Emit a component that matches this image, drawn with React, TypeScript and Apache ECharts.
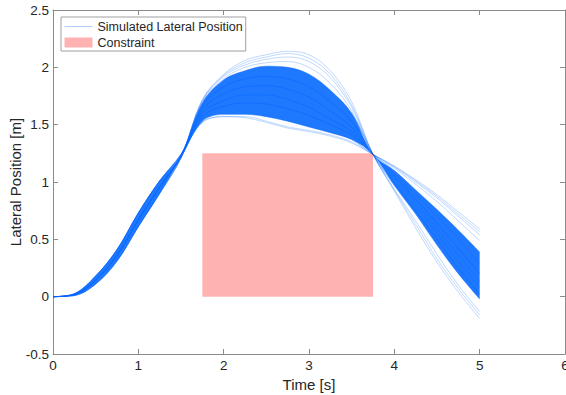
import React, { useEffect, useRef } from "react";
import * as echarts from "echarts";

// Sample times [s]
const TIME = [0, 0.25, 0.5, 0.75, 1, 1.25, 1.5, 1.75, 2, 2.25, 2.5, 2.75, 3, 3.25, 3.5, 3.75, 4, 4.25, 4.5, 4.75, 5];
// Remaining slots of the 0.25 s grid up to the axis end (for the hidden band axis)
const TIME_PAD = [5.25, 5.5, 5.75, 6];

// Individual simulated lateral-position runs [m]
const RUN_01 = [0, 0.01, 0.11, 0.31, 0.61, 0.9, 1.21, 1.72, 1.94, 2.06, 2.11, 2.14, 2.11, 1.97, 1.7, 1.24, 0.94, 0.66, 0.37, 0.1, -0.13];
const RUN_02 = [0, 0.01, 0.11, 0.31, 0.61, 0.9, 1.21, 1.71, 1.92, 2.02, 2.07, 2.09, 2.05, 1.91, 1.65, 1.24, 0.92, 0.6, 0.3, 0.04, -0.19];
const RUN_03 = [0, 0.018, 0.145, 0.36, 0.67, 0.955, 1.225, 1.7, 1.9, 2.0, 2.04, 2.05, 2.0, 1.86, 1.62, 1.24, 0.99, 0.75, 0.5, 0.25, 0.02];
const RUN_04 = [0, 0.025, 0.18, 0.41, 0.73, 1.01, 1.24, 1.69, 1.89, 1.97, 2.01, 2.0, 1.94, 1.8, 1.6, 1.24, 0.97, 0.72, 0.45, 0.2, -0.02];
const RUN_05 = [0, 0.018, 0.145, 0.36, 0.67, 0.955, 1.225, 1.66, 1.83, 1.9, 1.92, 1.9, 1.83, 1.7, 1.53, 1.24, 1.01, 0.79, 0.55, 0.31, 0.08];
const RUN_06 = [0, 0.025, 0.18, 0.41, 0.73, 1.01, 1.24, 1.63, 1.77, 1.83, 1.84, 1.81, 1.74, 1.62, 1.48, 1.24, 1.05, 0.85, 0.64, 0.42, 0.2];
const RUN_07 = [0, 0.018, 0.145, 0.36, 0.67, 0.955, 1.225, 1.6, 1.71, 1.76, 1.76, 1.72, 1.65, 1.55, 1.44, 1.24, 1.07, 0.89, 0.7, 0.5, 0.29];
const RUN_08 = [0, 0.01, 0.11, 0.31, 0.61, 0.9, 1.21, 1.57, 1.66, 1.69, 1.68, 1.64, 1.58, 1.5, 1.41, 1.24, 1.1, 0.93, 0.76, 0.58, 0.39];
const RUN_09 = [0, 0.025, 0.18, 0.41, 0.73, 1.01, 1.24, 1.53, 1.59, 1.59, 1.57, 1.53, 1.48, 1.43, 1.37, 1.24, 1.12, 0.98, 0.83, 0.66, 0.49];
const RUN_10 = [0, 0.025, 0.18, 0.41, 0.73, 1.01, 1.24, 1.52, 1.57, 1.57, 1.53, 1.48, 1.45, 1.41, 1.35, 1.24, 1.14, 1.02, 0.89, 0.74, 0.59];
const RUN_11 = [0, 0.018, 0.145, 0.36, 0.67, 0.955, 1.225, 1.53, 1.59, 1.59, 1.57, 1.53, 1.48, 1.43, 1.37, 1.24, 1.13, 1.0, 0.86, 0.7, 0.54];
const RUN_12 = [0, 0.01, 0.11, 0.31, 0.61, 0.9, 1.21, 1.66, 1.83, 1.9, 1.92, 1.9, 1.83, 1.7, 1.53, 1.24, 1.03, 0.82, 0.59, 0.36, 0.13];
const RUN_13 = [0, 0.025, 0.18, 0.41, 0.73, 1.01, 1.24, 1.6, 1.71, 1.76, 1.76, 1.72, 1.65, 1.55, 1.44, 1.24, 1.1, 0.93, 0.76, 0.58, 0.39];
const RUN_14 = [0, 0.018, 0.145, 0.36, 0.67, 0.955, 1.225, 1.69, 1.89, 1.97, 2.01, 2.0, 1.94, 1.8, 1.6, 1.24, 0.97, 0.72, 0.45, 0.2, -0.02];
const RUN_15 = [0, 0.01, 0.11, 0.31, 0.61, 0.9, 1.21, 1.63, 1.77, 1.83, 1.84, 1.81, 1.74, 1.62, 1.48, 1.24, 0.99, 0.75, 0.5, 0.25, 0.02];
const RUN_16 = [0, 0.025, 0.18, 0.41, 0.73, 1.01, 1.24, 1.57, 1.66, 1.69, 1.68, 1.64, 1.58, 1.5, 1.41, 1.24, 1.05, 0.85, 0.64, 0.42, 0.2];
const RUN_17 = [0, 0.018, 0.145, 0.36, 0.67, 0.955, 1.225, 1.71, 1.93, 2.04, 2.09, 2.12, 2.08, 1.94, 1.67, 1.24, 0.93, 0.63, 0.33, 0.07, -0.16];
const RUN_18 = [0, 0.025, 0.18, 0.41, 0.73, 1.01, 1.24, 1.52, 1.57, 1.56, 1.52, 1.47, 1.44, 1.4, 1.34, 1.24, 1.135, 1.01, 0.875, 0.72, 0.565];

const RUNS = [RUN_01, RUN_02, RUN_03, RUN_04, RUN_05, RUN_06, RUN_07, RUN_08, RUN_09, RUN_10, RUN_11, RUN_12, RUN_13, RUN_14, RUN_15, RUN_16, RUN_17, RUN_18];

// Dense core of the run bundle (lower / upper edge) [m]
const CORE_LOW = [0, 0.01, 0.11, 0.31, 0.61, 0.9, 1.21, 1.53, 1.59, 1.59, 1.57, 1.53, 1.48, 1.43, 1.37, 1.24, 0.97, 0.72, 0.45, 0.2, -0.02];
const CORE_HIGH = [0, 0.025, 0.18, 0.41, 0.73, 1.01, 1.24, 1.69, 1.89, 1.97, 2.01, 2.0, 1.94, 1.8, 1.6, 1.24, 1.1, 0.93, 0.76, 0.58, 0.39];

// Constraint region
const CONSTRAINT_T = [1.75, 3.75];
const CONSTRAINT_Y = 1.25;

const SIM_NAME = "Simulated Lateral Position";
const CON_NAME = "Constraint";
const LINE_COLOR = "rgba(0,102,255,0.25)";
const TEXT = "#262626";
const AXIS = "#8a8a8a";
const FONT = "'Liberation Sans', Arial, Helvetica, sans-serif";
const SMOOTH = 0.35;

export default function App() {
  const ref = useRef<HTMLDivElement>(null);

  useEffect(() => {
    if (!ref.current) return;
    const chart = echarts.init(ref.current, null, { renderer: "svg" });

    const axisCommon = {
      type: "value" as const,
      splitLine: { show: false },
      axisLine: { show: true, onZero: false, lineStyle: { color: AXIS, width: 1 } },
      axisTick: { show: true, inside: true, length: 5, lineStyle: { color: AXIS } },
    };

    const bandCats = TIME.concat(TIME_PAD).map((t) => String(t));

    const series: any[] = [];

    series.push({
      name: "coreBase",
      type: "line",
      xAxisIndex: 2,
      stack: "core",
      stackStrategy: "all",
      smooth: SMOOTH,
      symbol: "none",
      lineStyle: { width: 0, opacity: 0 },
      data: CORE_LOW,
      silent: true,
      z: 1,
    });
    series.push({
      name: "coreSpan",
      type: "line",
      xAxisIndex: 2,
      stack: "core",
      stackStrategy: "all",
      smooth: SMOOTH,
      symbol: "none",
      lineStyle: { width: 0, opacity: 0 },
      areaStyle: { color: "rgba(0,102,255,0.88)", opacity: 1 },
      data: CORE_HIGH.map((h, i) => h - CORE_LOW[i]),
      silent: true,
      z: 1,
    });

    RUNS.forEach((run) => {
      series.push({
        name: SIM_NAME,
        type: "line",
        smooth: SMOOTH,
        symbol: "none",
        showSymbol: false,
        itemStyle: { color: LINE_COLOR },
        lineStyle: { color: LINE_COLOR, width: 1 },
        data: TIME.map((t, i) => [t, run[i]]),
        silent: true,
        z: 2,
      });
    });

    series.push({
      name: CON_NAME,
      type: "line",
      symbol: "none",
      showSymbol: false,
      itemStyle: { color: "rgba(255,0,0,0.3)" },
      lineStyle: { width: 0, opacity: 0 },
      areaStyle: { color: "rgba(255,0,0,0.3)", opacity: 1 },
      data: CONSTRAINT_T.map((t) => [t, CONSTRAINT_Y]),
      silent: true,
      z: 3,
    });

    chart.setOption({
      animation: false,
      textStyle: { fontFamily: FONT },
      grid: { left: 53, right: 1, top: 10, bottom: 41, containLabel: false, outerBoundsMode: "none" },
      legend: {
        left: 61,
        top: 17,
        orient: "vertical",
        backgroundColor: "#ffffff",
        borderColor: "#a0a0a0",
        borderWidth: 1,
        borderRadius: 0,
        padding: [2, 3, 1, 3],
        itemGap: 1,
        itemWidth: 28,
        itemHeight: 10,
        selectedMode: false,
        textStyle: { color: TEXT, fontSize: 12.5, lineHeight: 15, fontFamily: FONT },
        data: [
          {
            name: SIM_NAME,
            itemStyle: { opacity: 0 },
            lineStyle: { color: "rgba(0,102,255,0.3)", width: 1 },
          },
          { name: CON_NAME, icon: "rect", itemStyle: { color: "rgba(255,0,0,0.3)" } },
        ],
      },
      xAxis: [
        {
          ...axisCommon,
          position: "bottom",
          min: 0,
          max: 6,
          interval: 1,
          axisLabel: { color: TEXT, fontSize: 13.5, margin: 4, fontFamily: FONT },
          name: "Time [s]",
          nameLocation: "middle",
          nameGap: 21,
          nameTextStyle: { color: TEXT, fontSize: 15, fontFamily: FONT },
        },
        {
          ...axisCommon,
          position: "top",
          min: 0,
          max: 6,
          interval: 1,
          axisLabel: { show: false },
        },
        {
          type: "category",
          data: bandCats,
          boundaryGap: false,
          show: false,
          position: "bottom",
        },
      ],
      yAxis: [
        {
          ...axisCommon,
          position: "left",
          min: -0.5,
          max: 2.5,
          interval: 0.5,
          axisLabel: { color: TEXT, fontSize: 13.5, margin: 4, fontFamily: FONT },
          name: "Lateral Position [m]",
          nameLocation: "middle",
          nameGap: 30,
          nameMoveOverlap: false,
          nameRotate: 90,
          nameTextStyle: { color: TEXT, fontSize: 15, fontFamily: FONT },
        },
        {
          ...axisCommon,
          position: "right",
          min: -0.5,
          max: 2.5,
          interval: 0.5,
          axisLabel: { show: false },
        },
      ],
      series,
    });

    return () => chart.dispose();
  }, []);

  return (
    <div
      ref={ref}
      style={{ position: "fixed", left: 0, top: 0, width: 566, height: 395, background: "#ffffff" }}
    />
  );
}
